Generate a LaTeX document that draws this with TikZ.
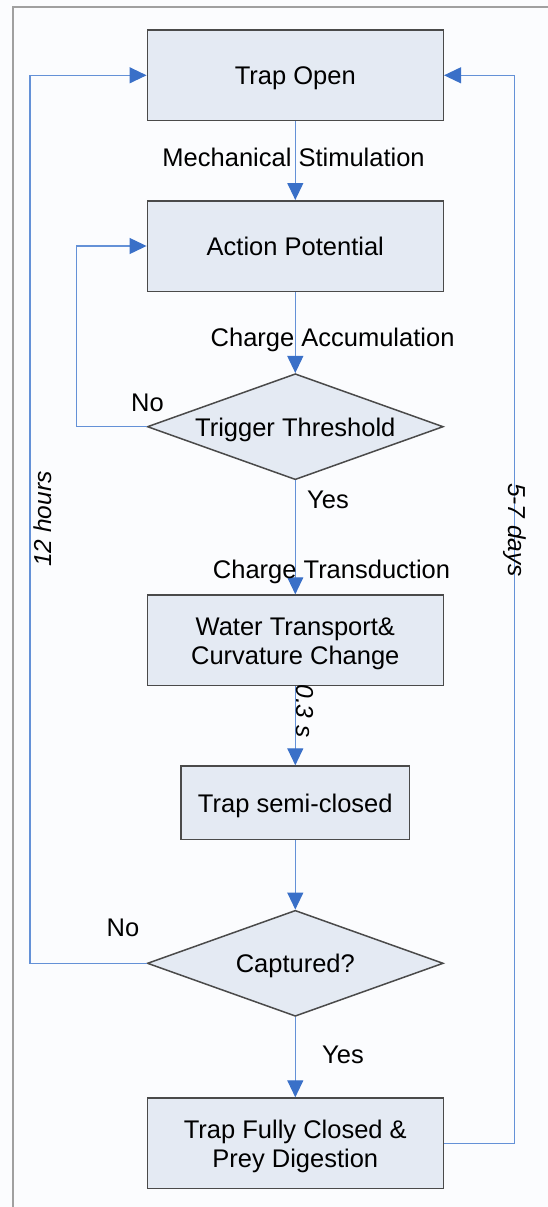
\documentclass[tikz,border=0pt]{standalone}
\usepackage{fontspec}
\setmainfont{Liberation Sans}
\usetikzlibrary{shapes.geometric,arrows.meta}
\definecolor{bg}{RGB}{251,252,254}
\definecolor{framec}{RGB}{160,160,160}
\definecolor{boxfill}{RGB}{228,234,243}
\definecolor{boxline}{RGB}{74,74,74}
\definecolor{linec}{RGB}{100,145,215}
\definecolor{arrowc}{RGB}{58,112,200}
\tikzset{
  txt/.style={font=\fontsize{25.5}{29}\selectfont},
  procbox/.style={txt, draw=boxline, fill=boxfill, line width=1.5pt, minimum width=296pt, minimum height=90.5pt, align=center, inner sep=0pt, text height=18.6pt, text depth=0pt},
  twoline/.style={text height=48pt},
  decbox/.style={txt, diamond, draw=boxline, fill=boxfill, line width=1.5pt, aspect=2.79, minimum width=296pt, minimum height=106pt, inner sep=0pt, text height=18.6pt, text depth=0pt},
  conn/.style={draw=linec, line width=1.2pt, -{Triangle[length=17pt,width=16pt,color=arrowc]}},
  lbl/.style={txt, inner sep=0pt, anchor=base},
  rlbl/.style={inner sep=0pt, font=\fontsize{24.5}{29}\selectfont\itshape}
}
\begin{document}
\begin{tikzpicture}[x=1pt,y=-1pt]
\useasboundingbox (0,0) rectangle (548,1207);
\fill[bg] (0,0) rectangle (548,1207);
\draw[framec, line width=2pt] (13.3,1207) -- (13.3,7.3) -- (548,7.3);

\node[procbox] (open) at (295.3,75.3) {Trap Open};
\node[procbox] (ap) at (295.3,246) {Action Potential};
\node[decbox] (th) at (295.3,426.7) {Trigger Threshold};
\node[procbox, twoline] (wt) at (295.3,640.3) {Water Transport\&\\Curvature Change};
\node[procbox, minimum width=228.6pt, minimum height=73.3pt] (sc) at (295.3,802.7) {Trap semi-closed};
\node[decbox] (cap) at (295.3,963.3) {Captured?};
\node[procbox, twoline] (full) at (295.3,1143.3) {Trap Fully Closed \&\\Prey Digestion};

\draw[conn] (open) -- (ap);
\draw[conn] (ap) -- (th);
\draw[conn] (th.west) -- ++(-69.7,0) |- (ap.west);
\draw[conn] (th) -- (wt);
\draw[conn] (wt) -- (sc);
\draw[conn] (sc) -- (cap);
\draw[conn] (cap.west) -- ++(-116.6,0) |- (open.west);
\draw[conn] (cap) -- (full);
\draw[conn] (full.east) -- ++(70.7,0) |- (open.east);

\node[lbl] (l1) at (293.6,166.5) {Mechanical Stimulation};
\node[lbl] (l2) at (332.6,346.7) {Charge Accumulation};
\node[lbl] (l3) at (147.5,411.7) {No};
\node[lbl] (l4) at (328,508.3) {Yes};
\node[lbl] (l5) at (331.5,578.5) {Charge Transduction};
\node[lbl] (l6) at (123,936.7) {No};
\node[lbl] (l7) at (343,1063.3) {Yes};
\node[rlbl, rotate=90] (l8) at (43,519) {12 hours};
\node[rlbl, rotate=-90] (l9) at (515,530) {5-7 days};
\node[rlbl, rotate=-90] (l10) at (305,711) {0.3 s};
\end{tikzpicture}
\end{document}
